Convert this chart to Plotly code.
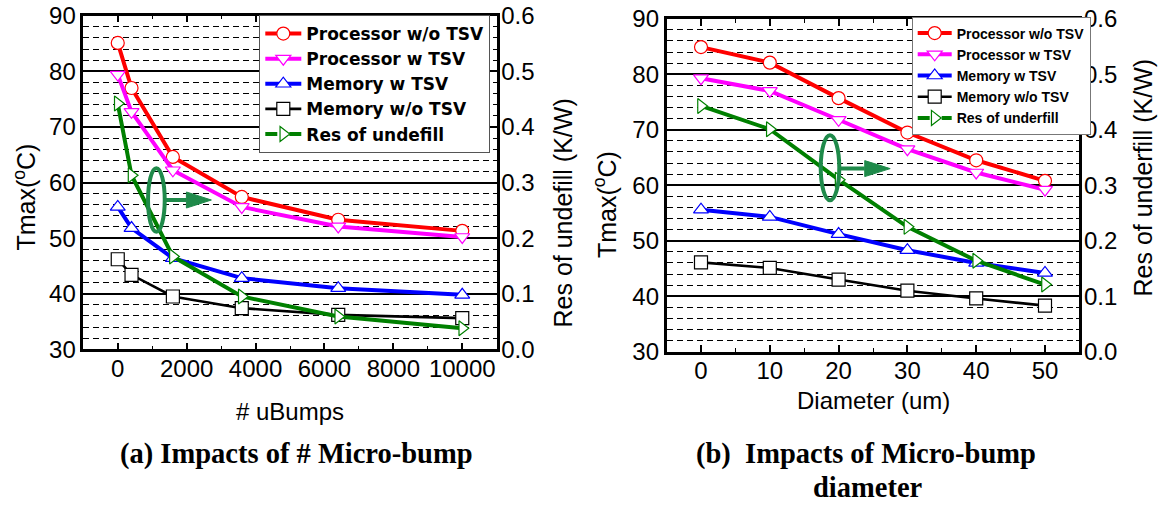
import plotly.graph_objects as go

W, H = 1166, 505
SANS = "Liberation Sans, Arial, sans-serif"
SANS_WIDE = "DejaVu Sans, Liberation Sans, sans-serif"
SERIF = "Liberation Serif, Times New Roman, serif"

# ---------------- data: panel (a) ----------------
bumps = [0, 400, 1600, 3600, 6400, 10000]
a_proc_wo = [85.1, 77.0, 64.6, 57.4, 53.3, 51.3]
a_proc_w = [79.4, 72.7, 62.2, 55.6, 52.1, 50.2]
a_mem_w = [55.6, 51.8, 46.4, 42.8, 41.0, 39.8]
a_mem_wo = [46.2, 43.4, 39.5, 37.4, 36.2, 35.6]
a_res = [0.442, 0.313, 0.167, 0.095, 0.059, 0.038]

# ---------------- data: panel (b) ----------------
diam = [0, 10, 20, 30, 40, 50]
b_proc_wo = [84.9, 82.1, 75.7, 69.5, 64.5, 60.8]
b_proc_w = [79.3, 77.0, 71.8, 66.5, 62.3, 59.2]
b_mem_w = [55.6, 54.3, 51.2, 48.3, 46.0, 44.2]
b_mem_wo = [46.1, 45.1, 43.0, 41.0, 39.6, 38.3]
b_res = [0.443, 0.401, 0.310, 0.225, 0.164, 0.121]

# ---------------- tick labels ----------------
a_xticks = [0, 2000, 4000, 6000, 8000, 10000]
b_xticks = [0, 10, 20, 30, 40, 50]
t_ticks = [30, 40, 50, 60, 70, 80, 90]
r_ticks = [0.0, 0.1, 0.2, 0.3, 0.4, 0.5, 0.6]

names = ["Processor w/o TSV", "Processor w TSV", "Memory w TSV", "Memory w/o TSV"]
a_res_name = "Res of undefill"
b_res_name = "Res of underfill"
colors = ["#ff0000", "#ff00ff", "#0000ff", "#000000"]
symbols = ["circle", "triangle-down", "triangle-up", "square"]
widths = [4, 4, 4, 2.6]
res_color = "#008000"
note_color = "#1f8a4a"


def px(xp):
    return xp / W


def py(yp):
    return 1 - yp / H


fig = go.Figure()


def add_panel(xv, series, res, res_name, xa, ya, ya2, legend):
    for name, vals, c, s, w in zip(names, series, colors, symbols, widths):
        fig.add_trace(go.Scatter(
            x=xv, y=vals, name="<b>%s</b>" % name, mode="lines+markers",
            line=dict(color=c, width=w),
            marker=dict(symbol=s, size=13, color="white", line=dict(color=c, width=1.2)),
            xaxis=xa, yaxis=ya, legend=legend))
    fig.add_trace(go.Scatter(
        x=xv, y=res, name="<b>%s</b>" % res_name, mode="lines+markers", showlegend=False,
        line=dict(color=res_color, width=4),
        marker=dict(symbol="triangle-right", size=13, color="white", line=dict(color=res_color, width=1.2)),
        xaxis=xa, yaxis=ya2))
    # legend entry (dashed sample as in the original)
    fig.add_trace(go.Scatter(
        x=[None], y=[None], name="<b>%s</b>" % res_name, mode="lines+markers",
        line=dict(color=res_color, width=4, dash="dash"),
        marker=dict(symbol="triangle-right", size=13, color="white", line=dict(color=res_color, width=1.2)),
        xaxis=xa, yaxis=ya2, legend=legend))


add_panel(bumps, [a_proc_wo, a_proc_w, a_mem_w, a_mem_wo], a_res, a_res_name, "x", "y", "y2", "legend")
add_panel(diam, [b_proc_wo, b_proc_w, b_mem_w, b_mem_wo], b_res, b_res_name, "x2", "y3", "y4", "legend2")

tickfont = dict(family=SANS, size=24, color="black")
base = dict(showline=True, linecolor="black", linewidth=2.5, ticks="inside", ticklen=7,
            tickwidth=1.5, tickcolor="black", tickfont=tickfont, zeroline=False,
            automargin=False)


def xaxis(dom, rng, ticks, minor, anchor):
    return dict(base, domain=dom, range=rng, tickvals=ticks, ticktext=[str(t) for t in ticks],
                showgrid=False, mirror="ticks", anchor=anchor, ticklabelstandoff=-4,
                minor=dict(dtick=minor, ticks="inside", ticklen=4, tickwidth=1.2,
                           tickcolor="black", showgrid=False))


def yaxis(dom, anchor):
    return dict(base, domain=dom, range=[30, 90], tickvals=t_ticks, ticktext=[str(t) for t in t_ticks],
                showgrid=True, gridcolor="black", gridwidth=1.8, anchor=anchor, ticklabelstandoff=0,
                minor=dict(dtick=2, ticks="inside", ticklen=4, tickwidth=1.2, tickcolor="black",
                           showgrid=True, gridcolor="black", gridwidth=1, griddash="6px,4px"))


def y2axis(anchor, over):
    return dict(base, range=[0, 0.6], tickvals=r_ticks, ticktext=["%.1f" % t for t in r_ticks],
                showgrid=False, side="right", overlaying=over, anchor=anchor, ticklabelstandoff=-3,
                minor=dict(dtick=0.02, ticks="inside", ticklen=4, tickwidth=1.2, tickcolor="black",
                           showgrid=False))


a_xdom = [px(83.3), px(496.7)]
a_ydom = [py(349.3), py(15.7)]
b_xdom = [px(666.6), px(1079.4)]
b_ydom = [py(351.7), py(18.8)]

fig.update_layout(
    width=W, height=H, margin=dict(l=0, r=0, t=0, b=0, autoexpand=False),
    paper_bgcolor="white", plot_bgcolor="white",
    xaxis=xaxis(a_xdom, [-1000, 11000], a_xticks, 1000, "y"),
    yaxis=yaxis(a_ydom, "x"),
    yaxis2=y2axis("x", "y"),
    xaxis2=xaxis(b_xdom, [-5, 55], b_xticks, 5, "y3"),
    yaxis3=yaxis(b_ydom, "x2"),
    yaxis4=y2axis("x2", "y3"),
    legend=dict(x=px(259.3), y=py(15), xanchor="left", yanchor="top", bgcolor="white",
                bordercolor="#555", borderwidth=1, itemwidth=36, tracegroupgap=0,
                font=dict(family=SANS_WIDE, size=17, color="black")),
    legend2=dict(x=px(911.7), y=py(16.5), xanchor="left", yanchor="top", bgcolor="white",
                 bordercolor="#777", borderwidth=1, itemwidth=34, tracegroupgap=0,
                 font=dict(family=SANS, size=14, color="black")),
    showlegend=True,
)

# ---------- annotation: ellipse + arrow pointing to right axis ----------
def pointer(xr, yr, ex0, ex1, ey0, ey1, shaft_end, tip, yc, half):
    fig.add_shape(type="circle", xref=xr, yref=yr, x0=ex0, x1=ex1, y0=ey0, y1=ey1,
                  line=dict(color=note_color, width=4))
    fig.add_shape(type="line", xref=xr, yref=yr, x0=ex1, x1=shaft_end, y0=yc, y1=yc,
                  line=dict(color=note_color, width=4))
    fig.add_shape(type="path", xref=xr, yref=yr,
                  path="M %f,%f L %f,%f L %f,%f Z" % (shaft_end, yc + half, tip, yc, shaft_end, yc - half),
                  fillcolor=note_color, line=dict(color=note_color, width=1))


pointer("x", "y", 879, 1364, 51.15, 62.55, 1993, 2718, 56.85, 1.44)
pointer("x2", "y3", 17.4, 20.1, 57.3, 69.0, 23.8, 27.5, 63.0, 1.44)

# ---------- axis titles and captions ----------
def text(t, xp, yp, size, family=SANS, angle=0):
    fig.add_annotation(text=t, x=px(xp), y=py(yp), xref="paper", yref="paper",
                       xanchor="center", yanchor="middle", showarrow=False, textangle=angle,
                       font=dict(family=family, size=size, color="black"))


text("Tmax(<sup>o</sup>C)", 24, 197.5, 25, angle=-90)
text("Res of undefill (K/W)", 562.5, 213, 25, angle=-90)
text("# uBumps", 290, 411.7, 24)
text("<b>(a) Impacts of # Micro-bump</b>", 296.5, 454, 28.5, family=SERIF)

text("Tmax(<sup>o</sup>C)", 605, 205, 25, angle=-90)
text("Res of underfill (K/W)", 1142.5, 178, 25, angle=-90)
text("Diameter (um)", 873, 400, 24)
text("<b>(b)\u00a0 Impacts of Micro-bump</b>", 866, 454, 28.5, family=SERIF)
text("<b>diameter</b>", 868, 487, 28.5, family=SERIF)

fig.write_html("out.html", config={"displayModeBar": False},
               post_script="document.body.style.margin='0px';document.body.style.overflow='hidden';")
